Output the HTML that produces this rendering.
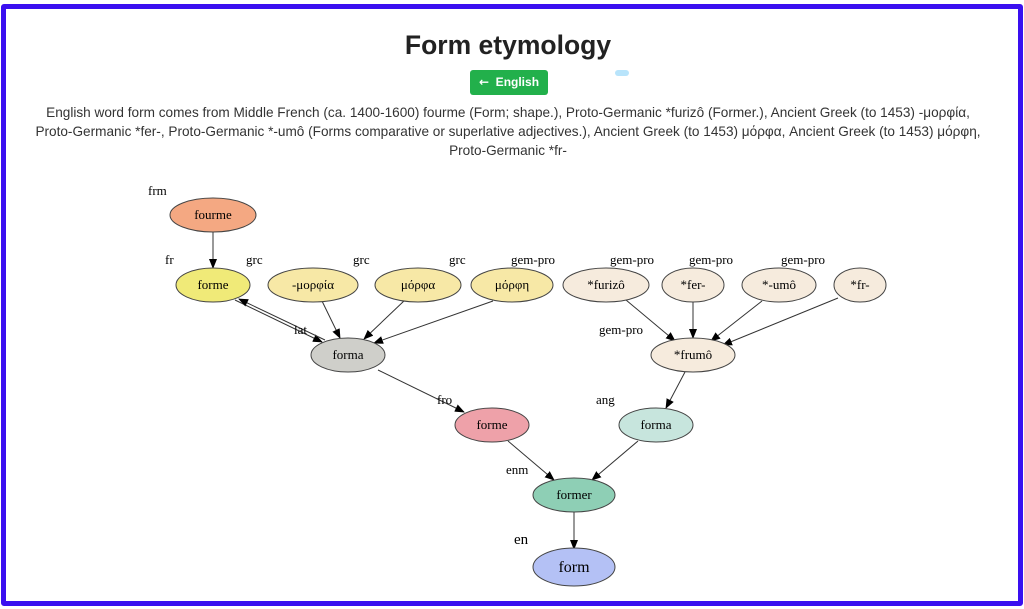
<!DOCTYPE html>
<html><head><meta charset="utf-8"><style>
html,body{margin:0;padding:0;background:#fff;}
body{width:1024px;height:609px;position:relative;overflow:hidden;font-family:"Liberation Sans",sans-serif;}
.frame{position:absolute;left:1px;top:4px;width:1012px;height:592px;border:5px solid #3a0ff0;border-radius:3px;}
h1{position:absolute;top:30px;left:-4px;width:1024px;text-align:center;margin:0;font-size:26.5px;font-weight:bold;color:#222;}
.btn{position:absolute;left:470px;top:70px;width:78px;height:25px;background:#22b04b;border-radius:3px;color:#fff;font-size:12px;font-weight:bold;line-height:25px;text-align:center;white-space:nowrap;}
.desc{position:absolute;top:103px;left:-4px;width:1024px;text-align:center;font-size:13.6px;line-height:19px;color:#333;white-space:nowrap;}
svg{position:absolute;left:0;top:0;}
svg text{font-family:"Liberation Serif","DejaVu Serif",serif;font-size:13px;fill:#000;}
</style></head><body>
<div class="frame"></div>
<h1>Form etymology</h1>
<div class="btn"><span style="font-family:'DejaVu Sans',sans-serif">&#8592;</span>&nbsp; English</div>
<div style="position:absolute;left:615px;top:70px;width:14px;height:6px;background:#b8e4fb;border-radius:3px"></div>
<div class="desc">English word form comes from Middle French (ca. 1400-1600) fourme (Form; shape.), Proto-Germanic *furizô (Former.), Ancient Greek (to 1453) -μορφία,<br>Proto-Germanic *fer-, Proto-Germanic *-umô (Forms comparative or superlative adjectives.), Ancient Greek (to 1453) μόρφα, Ancient Greek (to 1453) μόρφη,<br>Proto-Germanic *fr-</div>
<svg width="1024" height="609">
<defs><marker id="a" markerWidth="10" markerHeight="8" refX="9" refY="4" orient="auto" markerUnits="userSpaceOnUse"><path d="M0,0 L10,4 L0,8z" fill="#000"/></marker></defs>
<g stroke="#333" stroke-width="1" marker-end="url(#a)">
<line x1="213" y1="232" x2="213" y2="268"/>
<line x1="235" y1="300" x2="322" y2="342"/>
<line x1="325" y1="340" x2="239" y2="299"/>
<line x1="322" y1="301" x2="340" y2="338"/>
<line x1="405" y1="300" x2="364" y2="339"/>
<line x1="493" y1="301" x2="374" y2="343"/>
<line x1="378" y1="370" x2="464" y2="412"/>
<line x1="626" y1="300" x2="675" y2="341"/>
<line x1="693" y1="301" x2="693" y2="338"/>
<line x1="762" y1="301" x2="711" y2="341"/>
<line x1="838" y1="298" x2="723" y2="345"/>
<line x1="685" y1="372" x2="666" y2="408"/>
<line x1="508" y1="441" x2="554" y2="480"/>
<line x1="638" y1="441" x2="592" y2="480"/>
<line x1="574" y1="512" x2="574" y2="549"/>
</g>
<g stroke="#444" stroke-width="1">
<ellipse cx="213" cy="215" rx="43" ry="17" fill="#f4a882"/>
<ellipse cx="213" cy="285" rx="37" ry="17" fill="#f0ea78"/>
<ellipse cx="313" cy="285" rx="45" ry="17" fill="#f7e8a6"/>
<ellipse cx="418" cy="285" rx="43" ry="17" fill="#f7e8a6"/>
<ellipse cx="512" cy="285" rx="41" ry="17" fill="#f7e8a6"/>
<ellipse cx="348" cy="355" rx="37" ry="17" fill="#cfcfca"/>
<ellipse cx="606" cy="285" rx="43" ry="17" fill="#f6ebdd"/>
<ellipse cx="693" cy="285" rx="31" ry="17" fill="#f6ebdd"/>
<ellipse cx="779" cy="285" rx="37" ry="17" fill="#f6ebdd"/>
<ellipse cx="860" cy="285" rx="26" ry="17" fill="#f6ebdd"/>
<ellipse cx="693" cy="355" rx="42" ry="17" fill="#f6ebdd"/>
<ellipse cx="492" cy="425" rx="37" ry="17" fill="#eea1a9"/>
<ellipse cx="656" cy="425" rx="37" ry="17" fill="#c7e5dd"/>
<ellipse cx="574" cy="495" rx="41" ry="17" fill="#8ecfb5"/>
<ellipse cx="574" cy="567" rx="41" ry="19" fill="#b4c1f5"/>
</g>
<g text-anchor="middle">
<text x="213" y="219">fourme</text>
<text x="213" y="289">forme</text>
<text x="313" y="289">-μορφία</text>
<text x="418" y="289">μόρφα</text>
<text x="512" y="289">μόρφη</text>
<text x="348" y="359">forma</text>
<text x="606" y="289">*furizô</text>
<text x="693" y="289">*fer-</text>
<text x="779" y="289">*-umô</text>
<text x="860" y="289">*fr-</text>
<text x="693" y="359">*frumô</text>
<text x="492" y="429">forme</text>
<text x="656" y="429">forma</text>
<text x="574" y="499">former</text>
<text x="574" y="572" style="font-size:16px">form</text>
</g>
<g>
<text x="148" y="195">frm</text>
<text x="165" y="264">fr</text>
<text x="246" y="264">grc</text>
<text x="353" y="264">grc</text>
<text x="449" y="264">grc</text>
<text x="511" y="264">gem-pro</text>
<text x="610" y="264">gem-pro</text>
<text x="689" y="264">gem-pro</text>
<text x="781" y="264">gem-pro</text>
<text x="294" y="334">lat</text>
<text x="599" y="334">gem-pro</text>
<text x="437" y="404">fro</text>
<text x="596" y="404">ang</text>
<text x="506" y="474">enm</text>
<text x="514" y="544" style="font-size:15px">en</text>
</g>
</svg>
</body></html>
